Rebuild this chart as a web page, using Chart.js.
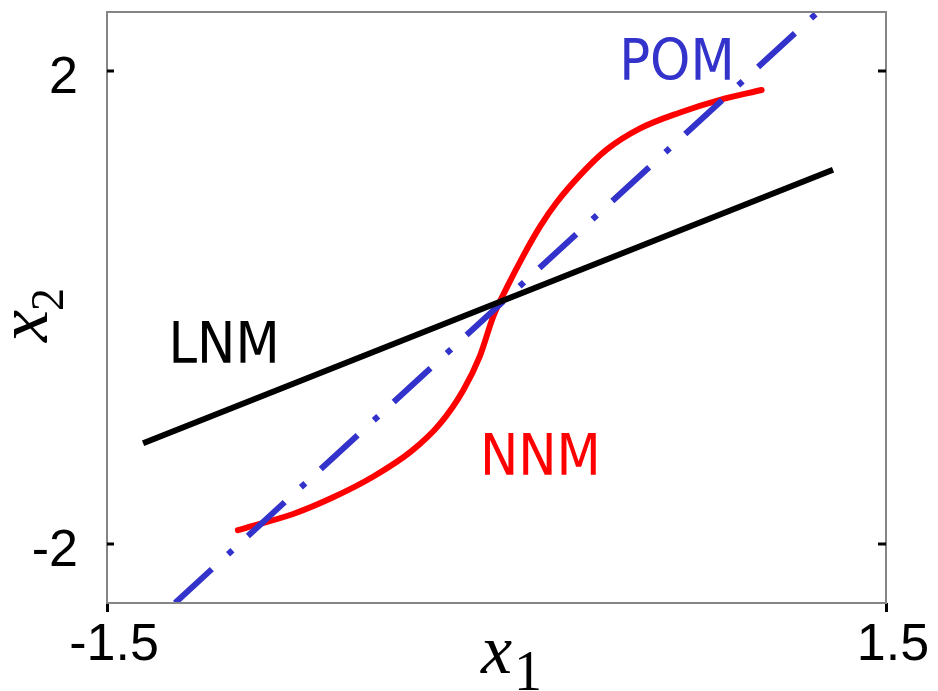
<!DOCTYPE html>
<html>
<head>
<meta charset="utf-8">
<script src="https://cdn.jsdelivr.net/npm/chart.js@4/dist/chart.umd.min.js"></script>
<style>
  html, body { margin: 0; padding: 0; background: #ffffff; }
  #wrap { width: 938px; height: 691px; }
</style>
</head>
<body>
<div id="wrap"><canvas id="c" width="938" height="691"></canvas></div>
<script>
// Nonlinear normal mode (S-shaped curve)
const nnmX = [-0.996, -0.911, -0.783, -0.629, -0.474, -0.330, -0.218, -0.128, -0.064, -0.012, 0.040, 0.102, 0.168, 0.232, 0.322, 0.424, 0.553, 0.707, 0.861, 1.021];
const nnmY = [-1.883, -1.831, -1.747, -1.606, -1.430, -1.220, -0.985, -0.700, -0.411, -0.073, 0.170, 0.433, 0.686, 0.890, 1.120, 1.335, 1.515, 1.650, 1.757, 1.840];

// Linear normal mode
const lnmX = [-1.361, 1.296];
const lnmY = [-1.148, 1.165];

// Proper orthogonal mode
const pomX = [-1.238, 1.238];
const pomY = [-2.5, 2.5];

// Axis ticks
const xTicks = [-1.5, 1.5];
const yTicks = [-2, 2];

const toPoints = (xs, ys) => xs.map((x, i) => ({ x: x, y: ys[i] }));

// Frame, inward y ticks, axis titles and curve labels
const decorations = {
  id: 'decorations',
  afterDraw(chart) {
    const ctx = chart.ctx;
    const a = chart.chartArea;
    const xs = chart.scales.x, ys = chart.scales.y;
    ctx.save();

    // frame
    ctx.strokeStyle = '#858585';
    ctx.lineWidth = 2;
    ctx.strokeRect(a.left, a.top, a.right - a.left, a.bottom - a.top);

    // inward ticks on left and right edges
    ctx.strokeStyle = '#000000';
    ctx.lineWidth = 3;
    yTicks.forEach(v => {
      const py = Math.round(ys.getPixelForValue(v));
      ctx.beginPath();
      ctx.moveTo(a.left, py); ctx.lineTo(a.left + 7, py);
      ctx.moveTo(a.right, py); ctx.lineTo(a.right - 8, py);
      ctx.stroke();
    });

    // x axis title: x₁
    ctx.fillStyle = '#000000';
    ctx.textAlign = 'left';
    ctx.textBaseline = 'alphabetic';
    ctx.font = 'italic 70px "Liberation Serif", "Times New Roman", serif';
    ctx.fillText('x', 481, 673);
    ctx.font = '56px "Liberation Serif", "Times New Roman", serif';
    ctx.fillText('1', 514, 690);

    // y axis title: x₂ (rotated)
    ctx.save();
    ctx.translate(47, 342);
    ctx.rotate(-Math.PI / 2);
    ctx.font = 'italic 72px "Liberation Serif", "Times New Roman", serif';
    ctx.fillText('x', 0, 0);
    ctx.font = '46px "Liberation Serif", "Times New Roman", serif';
    ctx.fillText('2', 31, 16);
    ctx.restore();

    // curve labels
    ctx.textAlign = 'center';
    ctx.textBaseline = 'alphabetic';
    ctx.font = '57px "DejaVu Sans Condensed", "DejaVu Sans", sans-serif';
    const labels = [
      { text: 'POM', x: 0.695, y: 1.924, color: '#3333CC' },
      { text: 'LNM', x: -1.049, y: -0.467, color: '#000000' },
      { text: 'NNM', x: 0.169, y: -1.418, color: '#FF0000' }
    ];
    labels.forEach(l => {
      ctx.fillStyle = l.color;
      ctx.fillText(l.text, xs.getPixelForValue(l.x), ys.getPixelForValue(l.y));
    });
    ctx.restore();
  }
};

const noPad = s => {
  s.paddingTop = 0; s.paddingBottom = 0;
  s.paddingLeft = 0; s.paddingRight = 0;
};

new Chart(document.getElementById('c'), {
  type: 'scatter',
  data: {
    datasets: [
      {
        label: 'LNM',
        data: toPoints(lnmX, lnmY),
        showLine: true,
        borderColor: '#000000',
        borderWidth: 6,
        pointRadius: 0,
        borderCapStyle: 'butt'
      },
      {
        label: 'POM',
        data: toPoints(pomX, pomY),
        showLine: true,
        borderColor: '#3333CC',
        borderWidth: 6,
        borderDash: [50, 22, 6, 21],
        borderCapStyle: 'butt',
        pointRadius: 0
      },
      {
        label: 'NNM',
        data: toPoints(nnmX, nnmY),
        showLine: true,
        borderColor: '#FF0000',
        borderWidth: 6,
        pointRadius: 0,
        cubicInterpolationMode: 'monotone',
        borderCapStyle: 'round',
        borderJoinStyle: 'round'
      }
    ]
  },
  options: {
    responsive: false,
    animation: false,
    devicePixelRatio: 1,
    layout: { padding: { top: 12, right: 52, left: 0, bottom: 0 } },
    plugins: {
      legend: { display: false },
      tooltip: { enabled: false }
    },
    scales: {
      x: {
        type: 'linear',
        position: 'bottom',
        min: -1.5,
        max: 1.5,
        afterBuildTicks: s => { s.ticks = xTicks.map(v => ({ value: v })); },
        afterFit: s => { s.height = 88; noPad(s); },
        border: { display: false },
        grid: {
          display: true,
          drawOnChartArea: false,
          drawTicks: true,
          tickLength: 9,
          color: '#000000',
          lineWidth: 3
        },
        ticks: {
          color: '#000000',
          font: { family: '"Liberation Sans", Arial, sans-serif', size: 52 },
          padding: 2,
          labelOffset: 7,
          maxRotation: 0,
          autoSkip: false,
          callback: v => String(v)
        }
      },
      y: {
        type: 'linear',
        position: 'left',
        min: -2.5,
        max: 2.5,
        afterBuildTicks: s => { s.ticks = yTicks.map(v => ({ value: v })); },
        afterFit: s => { s.width = 107; noPad(s); },
        border: { display: false },
        grid: { display: false, drawTicks: false },
        ticks: {
          color: '#000000',
          font: { family: '"Liberation Sans", Arial, sans-serif', size: 52 },
          padding: 29,
          labelOffset: 8,
          autoSkip: false,
          callback: v => String(v)
        }
      }
    }
  },
  plugins: [decorations]
});
</script>
</body>
</html>
